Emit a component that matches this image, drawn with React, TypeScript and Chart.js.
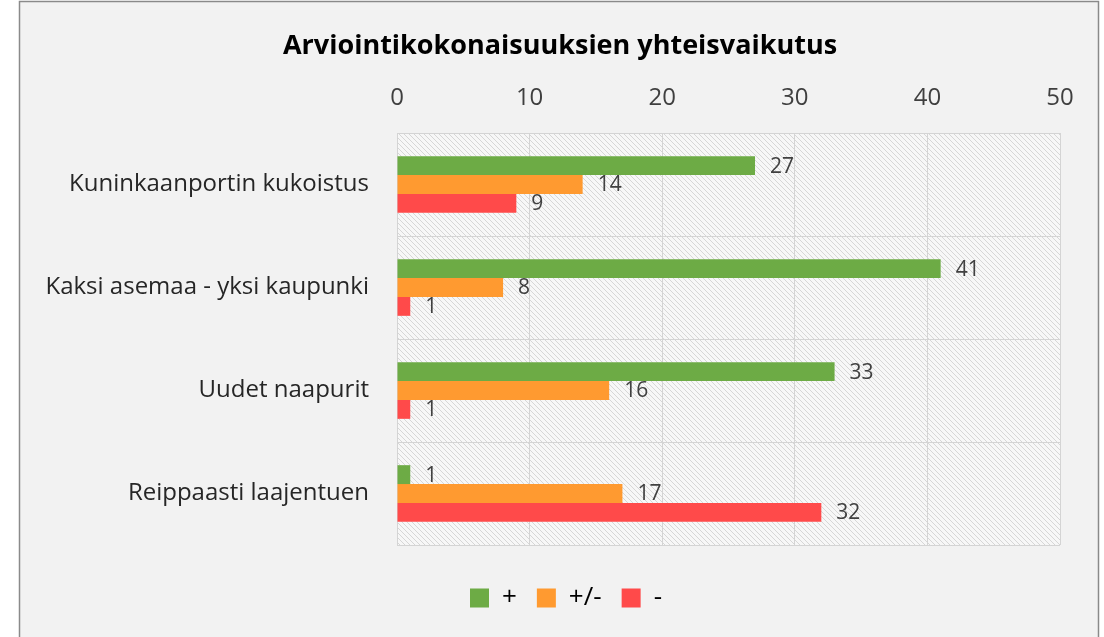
import React, { useEffect, useRef } from "react";
import { Chart, registerables } from "chart.js";

Chart.register(...registerables);

const categories = [
  "Kuninkaanportin kukoistus",
  "Kaksi asemaa - yksi kaupunki",
  "Uudet naapurit",
  "Reippaasti laajentuen",
];
const seriesNames = ["+", "+/-", "-"];
const plusValues = [27, 41, 33, 1];
const neutralValues = [14, 8, 16, 17];
const minusValues = [9, 1, 1, 32];
const seriesColors = ["#6dab45", "#ff9a30", "#ff4a4a"];
const xTicks = [0, 10, 20, 30, 40, 50];
const titleText = "Arviointikokonaisuuksien yhteisvaikutus";

const FONT = "'Open Sans', sans-serif";

function makePattern(): CanvasPattern | string {
  const c = document.createElement("canvas");
  const s = 5;
  c.width = s;
  c.height = s;
  const g = c.getContext("2d");
  if (!g) return "#eeeeee";
  g.fillStyle = "#f7f7f7";
  g.fillRect(0, 0, s, s);
  g.strokeStyle = "#d6d6d6";
  g.lineWidth = 1;
  g.beginPath();
  g.moveTo(-1, -1);
  g.lineTo(s + 1, s + 1);
  g.moveTo(-1, s - 1);
  g.lineTo(1, s + 1);
  g.moveTo(s - 1, -1);
  g.lineTo(s + 1, 1);
  g.stroke();
  const p = g.createPattern(c, "repeat");
  return p || "#eeeeee";
}

export default function App() {
  const ref = useRef<HTMLCanvasElement | null>(null);

  useEffect(() => {
    if (!ref.current) return;
    const pattern = makePattern();

    const bgPlugin = {
      id: "bg",
      afterLayout(chart: any) {
        if (chart.legend) {
          chart.legend.left = 72;
        }
      },
      beforeDraw(chart: any) {
        const { ctx, chartArea } = chart;
        ctx.save();
        ctx.fillStyle = "#ffffff";
        ctx.fillRect(0, 0, chart.width, chart.height);
        ctx.fillStyle = "#f2f2f2";
        ctx.fillRect(19, 1, 1080, chart.height + 5);
        ctx.strokeStyle = "#8a8a8a";
        ctx.lineWidth = 1.5;
        ctx.strokeRect(19.5, 1.5, 1079, chart.height + 5);
        ctx.fillStyle = pattern;
        ctx.fillRect(chartArea.left, chartArea.top, chartArea.right - chartArea.left, chartArea.bottom - chartArea.top);
        ctx.fillStyle = "#000000";
        ctx.font = `bold 27px ${FONT}`;
        ctx.textAlign = "center";
        ctx.textBaseline = "middle";
        ctx.fillText(titleText, 560, 46);
        ctx.restore();
      },
    };

    const labelPlugin = {
      id: "valueLabels",
      afterDatasetsDraw(chart: any) {
        const { ctx } = chart;
        ctx.save();
        ctx.font = `21px ${FONT}`;
        ctx.fillStyle = "#404040";
        ctx.textAlign = "left";
        ctx.textBaseline = "middle";
        chart.data.datasets.forEach((ds: any, i: number) => {
          const meta = chart.getDatasetMeta(i);
          meta.data.forEach((bar: any, j: number) => {
            ctx.fillText(String(ds.data[j]), bar.x + 15, bar.y + 1);
          });
        });
        ctx.restore();
      },
    };

    const chart = new Chart(ref.current, {
      type: "bar",
      data: {
        labels: categories,
        datasets: [
          { label: seriesNames[0], data: plusValues, backgroundColor: seriesColors[0] },
          { label: seriesNames[1], data: neutralValues, backgroundColor: seriesColors[1] },
          { label: seriesNames[2], data: minusValues, backgroundColor: seriesColors[2] },
        ],
      },
      options: {
        indexAxis: "y",
        responsive: false,
        animation: false,
        layout: { padding: { left: 0, right: 44, top: 0, bottom: 16 } },
        datasets: {
          bar: { categoryPercentage: 0.55, barPercentage: 1 },
        },
        scales: {
          x: {
            position: "top",
            min: 0,
            max: 50,
            afterBuildTicks(scale: any) {
              scale.ticks = xTicks.map((v) => ({ value: v }));
            },
            afterFit(scale: any) {
              scale.height = 133;
            },
            ticks: {
              padding: 20,
              color: "#3f3f3f",
              font: { family: FONT, size: 24 },
            },
            grid: { color: "#d4d4d4", drawTicks: false },
            border: { display: false },
          },
          y: {
            afterFit(scale: any) {
              scale.width = 397;
            },
            ticks: {
              padding: 28,
              color: "#262626",
              font: { family: FONT, size: 24 },
            },
            grid: { color: "#d4d4d4", drawTicks: false, offset: true },
            border: { color: "#d4d4d4" },
          },
          gap: {
            type: "linear",
            position: "bottom",
            display: true,
            afterFit(scale: any) {
              scale.height = 20;
            },
            ticks: { display: false },
            grid: { display: false, drawTicks: false },
            border: { display: false },
          },
        },
        plugins: {
          legend: {
            position: "bottom",
            labels: {
              boxWidth: 19,
              boxHeight: 19,
              padding: 20,
              color: "#000000",
              font: { family: FONT, size: 26 },
            },
          },
          title: { display: false },
          tooltip: { enabled: false },
        },
      },
      plugins: [bgPlugin, labelPlugin],
    } as any);

    return () => chart.destroy();
  }, []);

  return (
    <div style={{ position: "fixed", left: 0, top: 0, width: 1104, height: 637 }}>
      <canvas ref={ref} width={1104} height={637} style={{ display: "block", width: 1104, height: 637 }} />
    </div>
  );
}
